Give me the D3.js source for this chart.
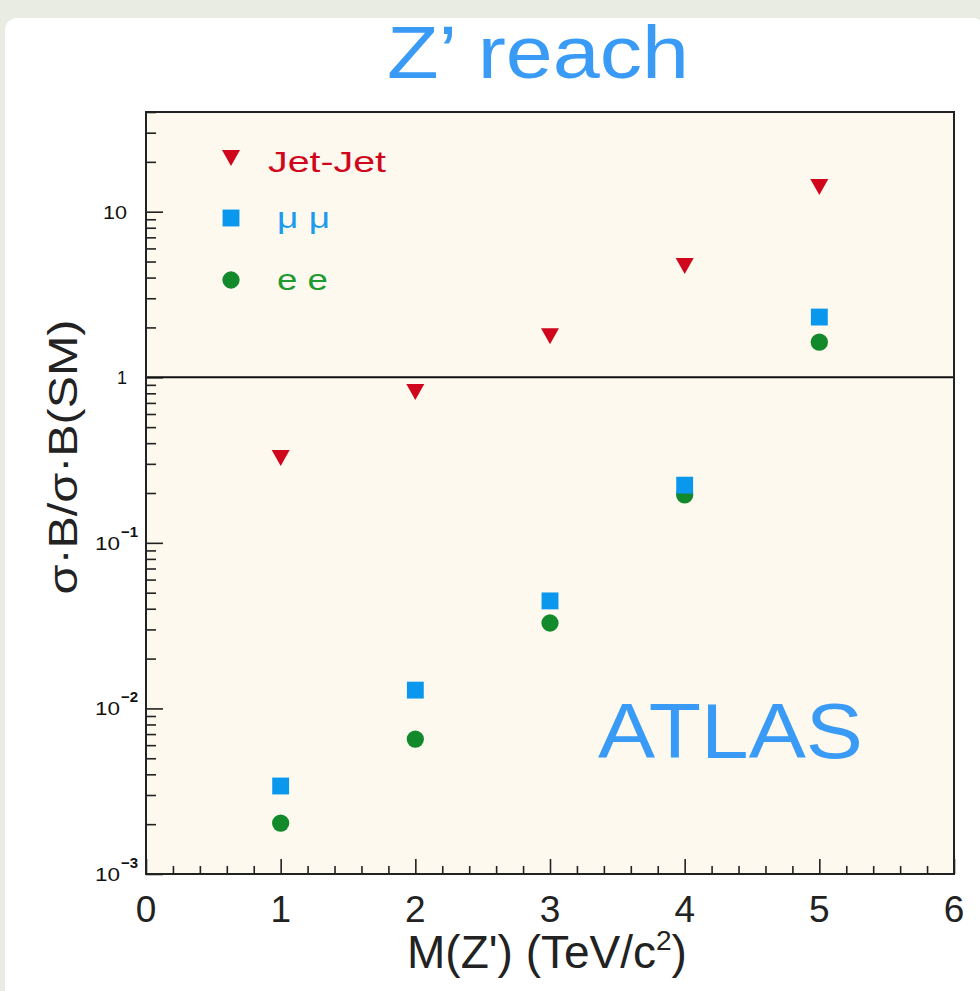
<!DOCTYPE html>
<html>
<head>
<meta charset="utf-8">
<script src="https://cdn.jsdelivr.net/npm/d3@7/dist/d3.min.js"></script>
<style>
  html, body { margin: 0; padding: 0; background: #fff; }
  svg { display: block; font-family: "Liberation Sans", Arial, Helvetica, sans-serif; }
</style>
</head>
<body>
<svg id="chart" width="980" height="991"></svg>
<script>
// ---- data ----
const masses = [1, 2, 3, 4, 5];
const jetJet = [0.325, 0.815, 1.77, 4.7, 14.1];
const muMu = [0.0034, 0.0129, 0.0446, 0.223, 2.31];
const eE = [0.00203, 0.00653, 0.0328, 0.195, 1.63];
const xTickLabels = ["0", "1", "2", "3", "4", "5", "6"];
const yMajorTicks = [0.001, 0.01, 0.1, 1, 10];
const yTickLabels = [["10", "\u22123"], ["10", "\u22122"], ["10", "\u22121"], ["1", ""], ["10", ""]];
const seriesNames = ["Jet-Jet", "\u03bc \u03bc", "e e"];

const svg = d3.select("#chart");
const W = 980, H = 991;
const L = 146, R = 954, T = 112, B = 874;

// background
svg.append("rect").attr("width", W).attr("height", H).attr("fill", "#e9ece2");
svg.append("rect").attr("x", 5).attr("y", 18).attr("width", W).attr("height", H)
  .attr("rx", 12).attr("fill", "#ffffff");

const x = d3.scaleLinear().domain([0, 6]).range([L, R]);
const y = d3.scaleLog().domain([0.001, 40]).range([B, T]);

// plot background
svg.append("rect").attr("x", L).attr("y", T).attr("width", R - L).attr("height", B - T)
  .attr("fill", "#fdf9ee");

// x axis ticks (inward)
const xMinor = d3.range(0, 30).map(i => i * 0.2).filter(v => Math.abs(v - Math.round(v)) > 1e-6);
const gx = svg.append("g").attr("transform", `translate(0,${B})`);
gx.call(d3.axisBottom(x).tickValues(xMinor).tickSize(-8).tickFormat(""))
  .call(g => g.select(".domain").remove());
gx.append("g").call(d3.axisBottom(x).tickValues(d3.range(0, 7)).tickSize(-15).tickFormat(""))
  .call(g => g.select(".domain").remove());
gx.selectAll("line").attr("stroke", "#222").attr("stroke-width", 1.6);

svg.append("g").selectAll("text").data(xTickLabels).join("text")
  .attr("x", (d, i) => x(i)).attr("y", 922)
  .attr("text-anchor", "middle").attr("font-size", 37).attr("fill", "#222")
  .text(d => d);

// y axis ticks (inward)
const yAll = y.ticks();
const yMinor = yAll.filter(v => !yMajorTicks.some(m => Math.abs(v / m - 1) < 1e-6));
const gy = svg.append("g").attr("transform", `translate(${L},0)`);
gy.call(d3.axisLeft(y).tickValues(yMinor).tickSize(-10).tickFormat(""))
  .call(g => g.select(".domain").remove());
gy.append("g").call(d3.axisLeft(y).tickValues(yMajorTicks).tickSize(-17).tickFormat(""))
  .call(g => g.select(".domain").remove());
gy.selectAll("line").attr("stroke", "#222").attr("stroke-width", 1.6);

// y tick labels
const yl = svg.append("g").attr("fill", "#111");
yMajorTicks.forEach((v, i) => {
  const [base, sup] = yTickLabels[i];
  const yy = y(v);
  if (sup) {
    yl.append("text").attr("x", 120).attr("y", yy + 7).attr("text-anchor", "end")
      .attr("font-size", 18).attr("textLength", 25).attr("lengthAdjust", "spacingAndGlyphs").text(base);
    yl.append("text").attr("x", 121).attr("y", yy - 6).attr("text-anchor", "start")
      .attr("font-size", 15).attr("font-weight", "bold").text(sup);
  } else {
    const t = yl.append("text").attr("x", 127).attr("y", yy + 7).attr("text-anchor", "end")
      .attr("font-size", 18).text(base);
    if (base.length > 1) t.attr("textLength", 24).attr("lengthAdjust", "spacingAndGlyphs");
  }
});

// line at y = 1
svg.append("line").attr("x1", L).attr("x2", R).attr("y1", y(1)).attr("y2", y(1))
  .attr("stroke", "#111").attr("stroke-width", 2);

// frame
svg.append("rect").attr("x", L).attr("y", T).attr("width", R - L).attr("height", B - T)
  .attr("fill", "none").attr("stroke", "#222").attr("stroke-width", 2);

// markers
const colors = ["#d0061c", "#0a97ee", "#12892a"];
const textColors = ["#d0061c", "#1d9cef", "#1f9a30"];
const triPath = "M-9,-8L9,-8L0,8Z";
const sqPath = d3.symbol().type(d3.symbolSquare).size(285)();
const circPath = d3.symbol().type(d3.symbolCircle).size(235)();

function drawMarker(g, kind, cx, cy, color) {
  const d = kind === 0 ? triPath : kind === 1 ? sqPath : circPath;
  g.append("path").attr("d", d).attr("fill", color)
    .attr("transform", `translate(${cx},${cy})`);
}

const marks = svg.append("g");
[eE, muMu, jetJet].forEach((vals, k) => {
  const kind = 2 - k;
  vals.forEach((v, i) => drawMarker(marks, kind, x(masses[i]), y(v), colors[kind]));
});

// legend
const leg = svg.append("g");
const legY = [158, 218, 280];
const legTextX = [268, 277, 277];
const legTextY = [172, 228, 290];
const legTextW = [118, 53, 51];
seriesNames.forEach((name, k) => {
  drawMarker(leg, k, 231, legY[k], colors[k]);
  leg.append("text").attr("x", legTextX[k]).attr("y", legTextY[k])
    .attr("font-size", 30).attr("fill", textColors[k])
    .attr("textLength", legTextW[k]).attr("lengthAdjust", "spacingAndGlyphs")
    .text(name);
});

// ATLAS label
svg.append("text").attr("x", 598).attr("y", 758).attr("font-size", 77)
  .attr("fill", "#3a9bf6").attr("textLength", 265).attr("lengthAdjust", "spacingAndGlyphs")
  .text("ATLAS");

// title
svg.append("text").attr("x", 387).attr("y", 78).attr("font-size", 74)
  .attr("fill", "#3a9bf6").attr("textLength", 302).attr("lengthAdjust", "spacingAndGlyphs")
  .text("Z\u2019 reach");

// x axis title
const xt = svg.append("text").attr("x", 547).attr("y", 968).attr("text-anchor", "middle")
  .attr("font-size", 46).attr("fill", "#222");
xt.append("tspan").text("M(Z') (TeV/c");
xt.append("tspan").attr("font-size", 28).attr("dy", -18).text("2");
xt.append("tspan").attr("dy", 18).text(")");

// y axis title
svg.append("text").attr("transform", "translate(77,457) rotate(-90)")
  .attr("text-anchor", "middle").attr("font-size", 40).attr("fill", "#222")
  .attr("textLength", 275).attr("lengthAdjust", "spacingAndGlyphs")
  .text("\u03c3\u00b7B/\u03c3\u00b7B(SM)");
</script>
</body>
</html>
